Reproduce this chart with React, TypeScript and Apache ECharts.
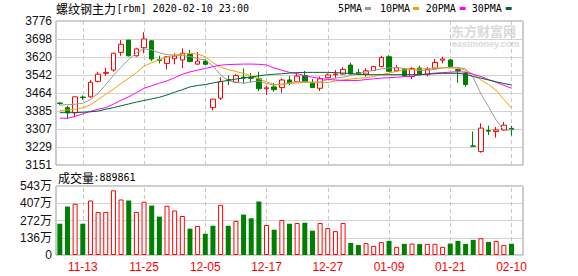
import React, { useEffect, useRef } from 'react';
import * as echarts from 'echarts';

const dates = ['11-08','11-11','11-12','11-13','11-14','11-15','11-18','11-19','11-20','11-21','11-22','11-25','11-26','11-27','11-28','11-29',
  '12-02','12-03','12-04','12-05','12-06','12-09','12-10','12-11','12-12','12-13','12-16','12-17','12-18','12-19','12-20','12-23','12-24','12-25','12-26','12-27','12-30','12-31',
  '01-02','01-03','01-06','01-07','01-08','01-09','01-10','01-13','01-14','01-15','01-16','01-17','01-20','01-21','01-22','01-23',
  '02-03','02-04','02-05','02-06','02-07','02-10'];
const labelDates = ['11-13','11-25','12-05','12-17','12-27','01-09','01-21','02-10'];

const opens = [3420,3400,3378,3446,3447,3514,3549,3563,3640,3693, 3625,3660,3690,3609,3592,3612,3607,3631,3589,3602,
  3400,3441,3522,3510,3532,3532,3525,3482,3490,3487, 3520,3513,3539,3506,3484,3530,3543,3546,3585,3553,
  3546,3561,3578,3621,3560,3568,3535,3572,3544,3571, 3606,3607,3566,3550,3234,3210,3301,3296,3303,3310];
const closes = [3418,3378,3447,3444,3510,3545,3553,3636,3675,3625, 3655,3698,3611,3605,3621,3624,3636,3600,3602,3588,
  3437,3513,3519,3539,3528,3527,3482,3486,3478,3520, 3505,3537,3513,3487,3525,3542,3546,3566,3546,3545,
  3560,3578,3618,3558,3573,3537,3570,3543,3566,3596, 3611,3578,3561,3500,3232,3311,3298,3303,3324,3306];
const lows = [3412,3350,3358,3433,3443,3510,3537,3556,3625,3622, 3621,3636,3602,3592,3566,3588,3571,3597,3585,3585,
  3388,3433,3498,3507,3505,3510,3472,3455,3469,3465, 3498,3511,3511,3485,3472,3528,3527,3542,3544,3542,
  3535,3559,3576,3555,3556,3535,3524,3541,3535,3568, 3592,3575,3508,3491,3232,3204,3281,3270,3298,3278];
const highs = [3424,3408,3448,3453,3520,3556,3573,3638,3693,3694, 3660,3727,3693,3625,3623,3636,3657,3650,3641,3608,
  3438,3532,3539,3545,3570,3550,3556,3494,3506,3527, 3537,3549,3559,3524,3535,3549,3563,3575,3595,3568,
  3571,3582,3625,3628,3585,3570,3575,3582,3577,3611, 3621,3611,3568,3556,3296,3332,3322,3316,3338,3321];

const ma5 = [3411,3413,3415,3419,3435,3462,3500,3540,3575,3610, 3638,3655,3650,3638,3630,3628,3626,3622,3612,3607,
  3580,3542,3518,3510,3506,3512,3515,3505,3498,3502, 3508,3513,3512,3510,3512,3522,3528,3532,3540,3548,
  3555,3562,3568,3572,3574,3570,3566,3561,3563,3566, 3572,3575,3575,3568,3530,3460,3404,3345,3300,3305];
const ma10 = [3387,3390,3393,3400,3412,3435,3458,3480,3505,3528, 3552,3580,3595,3608,3620,3628,3632,3636,3632,3621,
  3595,3575,3565,3557,3548,3538,3525,3512,3500,3500, 3505,3507,3510,3510,3508,3509,3515,3520,3524,3528,
  3530,3535,3543,3550,3558,3563,3566,3568,3570,3572, 3573,3572,3571,3562,3545,3520,3500,3475,3435,3398];
const ma20 = [3354,3354,3362,3373,3384,3393,3400,3415,3432,3447, 3465,3484,3495,3506,3516,3530,3545,3555,3563,3570,
  3578,3584,3587,3588,3589,3589,3588,3585,3572,3562, 3553,3548,3538,3532,3527,3522,3520,3518,3518,3518,
  3522,3525,3528,3530,3532,3534,3537,3542,3546,3550, 3552,3554,3556,3554,3545,3535,3522,3510,3497,3484];
const ma30 = [3378,3378,3378,3380,3382,3385,3393,3400,3408,3416, 3424,3431,3438,3445,3455,3467,3478,3490,3496,3500,
  3507,3513,3518,3524,3529,3533,3538,3542,3545,3547, 3550,3552,3553,3553,3553,3553,3552,3550,3548,3545,
  3543,3543,3543,3543,3543,3543,3543,3544,3545,3547, 3549,3549,3549,3545,3535,3528,3520,3512,3505,3498];

const volumes = [2460000,3810000,4030000,2460000,4290000,3390000,3390000,5090000,4370000,4290000,
  3390000,4190000,3890000,3020000,3870000,3500000,3070000,2070000,2280000,1670000,
  2300000,3950000,2300000,2680000,3180000,2890000,4210000,2360000,1990000,2750000,
  2460000,2520000,2540000,1910000,2520000,2120000,1880000,2520000,950000,790000,
  930000,720000,1010000,1110000,640000,880000,900000,860000,870000,880000,
  640000,900000,1110000,870000,1190000,1320000,1030000,1110000,790000,889861];
const volumeUp = [0,0,1,0,1,1,1,1,1,0, 1,1,0,0,1,1,1,0,1,0, 0,1,0,1,0,0,0,1,0,1,
  0,1,0,0,1,1,1,1,0,0, 1,1,1,0,1,0,1,0,1,1, 1,0,0,0,0,1,0,1,1,0];

const priceTicks = { min: 3151, max: 3776, interval: 78.125 };
const volTicks = { min: 0, max: 5430000, interval: 1357500 };

const legendItems = [
  { name: '5PMA', color: '#999999' },
  { name: '10PMA', color: '#f5a000' },
  { name: '20PMA', color: '#ff00ff' },
  { name: '30PMA', color: '#006633' },
];

const RED = '#ff0000';
const GREEN = '#008000';
const FONT = '"Liberation Sans", "Noto Sans CJK SC", sans-serif';
const MONO = '"DejaVu Sans Mono", monospace';
const CJK = '"Noto Sans CJK SC", sans-serif';

export default function App() {
  const ref = useRef<HTMLDivElement>(null);
  useEffect(() => {
    const chart = echarts.init(ref.current!, null, { renderer: 'svg' });
    const cats = [...dates, ''];
    const candle = dates.map((_, i) => [opens[i], closes[i], lows[i], highs[i]]);
    const markLine = {
      silent: true,
      z: 1,
      symbol: ['none', 'none'],
      label: { show: false },
      emphasis: { disabled: true },
      lineStyle: { color: '#c8c8c8', type: [4, 3], width: 1 },
      data: labelDates.map((d) => ({ xAxis: d })),
      animation: false,
    };
    const legendX = [338, 380, 425.7, 471.7];
    const markerX = [365, 413, 459.7, 505.7];
    const graphic: any[] = [
      { type: 'text', x: 56, y: 8, style: { text: '螺纹钢主力', fontFamily: CJK, fontSize: 12, fill: '#000', verticalAlign: 'middle' } },
      { type: 'text', x: 116.5, y: 8, style: { text: '[rbm] 2020-02-10 23:00', fontFamily: MONO, fontSize: 10, fill: '#000', verticalAlign: 'middle' } },
      { type: 'text', x: 58, y: 177.5, style: { text: '成交量', fontFamily: CJK, fontSize: 12, fill: '#000', verticalAlign: 'middle' } },
      { type: 'text', x: 93.5, y: 177.5, style: { text: ':' + volumes[volumes.length - 1], fontFamily: MONO, fontSize: 10, fill: '#000', verticalAlign: 'middle' } },
      { type: 'text', x: 451, y: 30.5, z: 0, style: { text: '东方财富网', fontFamily: CJK, fontSize: 13, fontWeight: 'bold', fill: '#d8d8d8', verticalAlign: 'middle' } },
      { type: 'text', x: 452, y: 44, z: 0, style: { text: 'eastmoney.com', fontFamily: FONT, fontSize: 9, fontWeight: 'bold', fill: '#d8d8d8', verticalAlign: 'middle' } },
    ];
    legendItems.forEach((it, k) => {
      graphic.push({ type: 'text', x: legendX[k], y: 8, style: { text: it.name, fontFamily: MONO, fontSize: 10, fill: '#000', verticalAlign: 'middle' } });
      graphic.push({ type: 'rect', x: markerX[k], y: 7, shape: { width: 6, height: 3 }, style: { fill: it.color } });
    });

    const axisLabelBase = { fontFamily: FONT, fontSize: 12 };
    const option: any = {
      animation: false,
      backgroundColor: '#ffffff',
      grid: [
        { left: 56, top: 21, width: 467, height: 144, show: true, borderColor: '#999', borderWidth: 1, backgroundColor: 'transparent', containLabel: false, outerBoundsMode: 'none' },
        { left: 56, top: 186, width: 467, height: 69, show: true, borderColor: '#999', borderWidth: 1, backgroundColor: 'transparent', containLabel: false, outerBoundsMode: 'none' },
      ],
      xAxis: [
        { type: 'category', gridIndex: 0, data: cats, boundaryGap: true, axisLine: { show: false }, axisTick: { show: false }, axisLabel: { show: false }, splitLine: { show: false } },
        {
          type: 'category', gridIndex: 1, data: cats, boundaryGap: true, axisLine: { show: false }, axisTick: { show: false }, splitLine: { show: false },
          axisLabel: { ...axisLabelBase, color: RED, margin: 6, interval: (_i: number, v: string) => labelDates.includes(v), hideOverlap: false },
        },
      ],
      yAxis: [
        {
          type: 'value', gridIndex: 0, min: priceTicks.min, max: priceTicks.max, interval: priceTicks.interval, scale: true,
          axisLine: { show: false }, axisTick: { show: false },
          axisLabel: { ...axisLabelBase, color: '#111', margin: 4, formatter: (v: number) => String(Math.round(v)) },
          splitLine: { show: true, lineStyle: { color: '#d2d2d2', width: 1, type: 'solid' } },
        },
        {
          type: 'value', gridIndex: 1, min: volTicks.min, max: volTicks.max, interval: volTicks.interval,
          axisLine: { show: false }, axisTick: { show: false },
          axisLabel: { ...axisLabelBase, color: '#111', margin: 4, formatter: (v: number) => (v === 0 ? '0' : Math.round(v / 10000) + '万') },
          splitLine: { show: true, lineStyle: { color: '#d2d2d2', width: 1, type: 'solid' } },
        },
      ],
      graphic,
      series: [
        {
          type: 'candlestick', name: 'K', xAxisIndex: 0, yAxisIndex: 0, data: candle, barWidth: 5, z: 3, silent: true,
          itemStyle: { color: '#ffffff', color0: GREEN, borderColor: RED, borderColor0: GREEN, borderWidth: 1 },
          markLine,
        },
        ...legendItems.map((it, k) => ({
          type: 'line', name: it.name, xAxisIndex: 0, yAxisIndex: 0, data: [ma5, ma10, ma20, ma30][k],
          symbol: 'none', showSymbol: false, smooth: false, silent: true, z: 4,
          lineStyle: { color: it.color, width: 1 }, itemStyle: { color: it.color },
        })),
        {
          type: 'bar', name: 'VOL', xAxisIndex: 1, yAxisIndex: 1, barWidth: 5, silent: true, z: 3,
          data: volumes.map((v, i) => ({
            value: v,
            itemStyle: volumeUp[i] ? { color: '#ffffff', borderColor: RED, borderWidth: 1 } : { color: GREEN, borderWidth: 0 },
          })),
          markLine,
        },
      ],
    };
    chart.setOption(option);
    return () => chart.dispose();
  }, []);
  return <div ref={ref} style={{ position: 'absolute', left: 0, top: 0, width: 578, height: 276, background: '#fff' }} />;
}
